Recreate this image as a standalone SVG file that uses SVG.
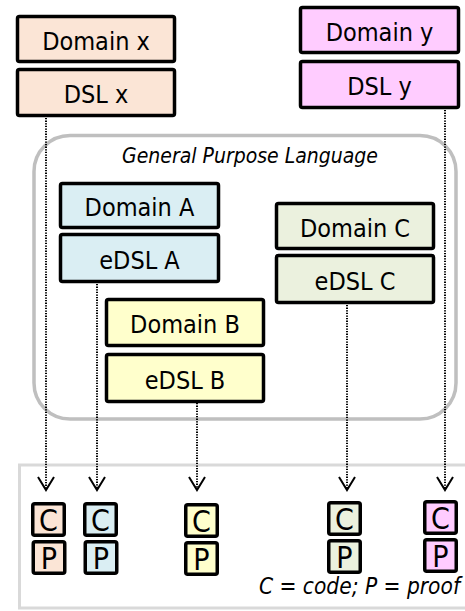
<svg xmlns="http://www.w3.org/2000/svg" width="465" height="611" viewBox="0 0 465 611">
  <style>
    text { font-family: "DejaVu Sans Condensed", "DejaVu Sans", sans-serif; font-stretch: condensed; fill: #000; }
    .box { stroke: #000; stroke-width: 3.5; }
    .lbl { font-size: 25px; text-anchor: middle; }
    .cp { font-size: 30px; text-anchor: middle; }
    .note { font-size: 21px; font-style: italic; }
    .legend { font-size: 22.5px; text-anchor: end; }
    .peach { fill: #FBE5D6; }
    .pink { fill: #FFCCFF; }
    .blue { fill: #DAEEF3; }
    .green { fill: #EBF1DE; }
    .yellow { fill: #FFFFCC; }
    .dot { stroke: #000; stroke-width: 2; stroke-dasharray: 1.3 1.3; fill: none; }
    .head { stroke: #000; stroke-width: 2; fill: none; }
  </style>

  <!-- output area -->
  <rect id="output-area" x="19.5" y="465" width="460" height="143" fill="#fff" stroke="#D9D9D9" stroke-width="3"/>

  <!-- host language container -->
  <g id="gpl">
    <rect x="34" y="135.5" width="422" height="283.5" rx="36" fill="none" stroke="#BFBFBF" stroke-width="3.5"/>
    <text class="note" x="250" y="163" text-anchor="middle">General Purpose Language</text>
  </g>

  <!-- standalone DSL x -->
  <g id="domain-x">
    <rect class="box peach" x="17.5" y="16.5" width="157" height="45" rx="2"/>
    <text class="lbl" x="96" y="49.5">Domain x</text>
  </g>
  <g id="dsl-x">
    <rect class="box peach" x="17.5" y="69.5" width="157" height="46" rx="2"/>
    <text class="lbl" x="96" y="102.5">DSL x</text>
  </g>

  <!-- standalone DSL y -->
  <g id="domain-y">
    <rect class="box pink" x="300.5" y="7.5" width="158" height="45" rx="2"/>
    <text class="lbl" x="379.5" y="40.5">Domain y</text>
  </g>
  <g id="dsl-y">
    <rect class="box pink" x="300.5" y="61.5" width="158" height="46" rx="2"/>
    <text class="lbl" x="379.5" y="94.5">DSL y</text>
  </g>

  <!-- embedded DSL A -->
  <g id="domain-a">
    <rect class="box blue" x="60.5" y="183.5" width="158" height="44" rx="2"/>
    <text class="lbl" x="139.5" y="216">Domain A</text>
  </g>
  <g id="edsl-a">
    <rect class="box blue" x="60.5" y="234.5" width="158" height="47" rx="2"/>
    <text class="lbl" x="139.5" y="268.5">eDSL A</text>
  </g>

  <!-- embedded DSL C -->
  <g id="domain-c">
    <rect class="box green" x="276.5" y="203.5" width="157" height="45" rx="2"/>
    <text class="lbl" x="355" y="236.5">Domain C</text>
  </g>
  <g id="edsl-c">
    <rect class="box green" x="276.5" y="255.5" width="157" height="47" rx="2"/>
    <text class="lbl" x="355" y="289.5">eDSL C</text>
  </g>

  <!-- embedded DSL B -->
  <g id="domain-b">
    <rect class="box yellow" x="106.5" y="299.5" width="157" height="46" rx="2"/>
    <text class="lbl" x="185" y="333">Domain B</text>
  </g>
  <g id="edsl-b">
    <rect class="box yellow" x="106.5" y="354.5" width="157" height="47" rx="2"/>
    <text class="lbl" x="185" y="388.5">eDSL B</text>
  </g>

  <!-- dotted connectors with open arrowheads -->
  <g id="connectors">
    <path class="dot" d="M46 118 V489"/>
    <path class="dot" d="M97 284 V489"/>
    <path class="dot" d="M197 403 V489"/>
    <path class="dot" d="M347 305 V489"/>
    <path class="dot" d="M445 110 V489"/>
    <path class="head" d="M38 477 L46 490 L54 477"/>
    <path class="head" d="M89 477 L97 490 L105 477"/>
    <path class="head" d="M189 477 L197 490 L205 477"/>
    <path class="head" d="M339 477 L347 490 L355 477"/>
    <path class="head" d="M437 477 L445 490 L453 477"/>
  </g>

  <!-- generated code and proof artefacts -->
  <g id="out-x">
    <rect class="box peach" x="32.75" y="503.75" width="31.5" height="31.5" rx="2"/>
    <text class="cp" x="48.5" y="530.5">C</text>
    <rect class="box peach" x="33.25" y="541.75" width="31.5" height="31.5" rx="2"/>
    <text class="cp" x="49" y="568.5">P</text>
  </g>
  <g id="out-a">
    <rect class="box blue" x="84.75" y="503.75" width="31.5" height="31.5" rx="2"/>
    <text class="cp" x="100.5" y="530.5">C</text>
    <rect class="box blue" x="85.25" y="541.75" width="31.5" height="31.5" rx="2"/>
    <text class="cp" x="101" y="568.5">P</text>
  </g>
  <g id="out-b">
    <rect class="box yellow" x="185.75" y="504.75" width="31.5" height="31.5" rx="2"/>
    <text class="cp" x="201.5" y="531.5">C</text>
    <rect class="box yellow" x="185.75" y="542.75" width="31.5" height="31.5" rx="2"/>
    <text class="cp" x="201.5" y="569.5">P</text>
  </g>
  <g id="out-c">
    <rect class="box green" x="328.75" y="502.75" width="31.5" height="31.5" rx="2"/>
    <text class="cp" x="344.5" y="529.5">C</text>
    <rect class="box green" x="328.75" y="540.75" width="31.5" height="31.5" rx="2"/>
    <text class="cp" x="344.5" y="567.5">P</text>
  </g>
  <g id="out-y">
    <rect class="box pink" x="424.75" y="501.75" width="31.5" height="31.5" rx="2"/>
    <text class="cp" x="440.5" y="528.5">C</text>
    <rect class="box pink" x="424.75" y="539.75" width="31.5" height="31.5" rx="2"/>
    <text class="cp" x="440.5" y="566.5">P</text>
  </g>

  <text class="note legend" x="460" y="594">C = code; P = proof</text>
</svg>
